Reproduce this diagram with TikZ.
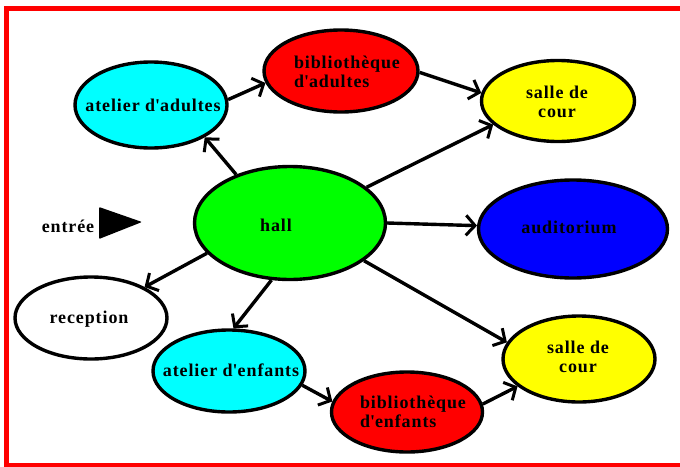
\documentclass[tikz,border=0pt]{standalone}
\usepackage{fontspec}
\setmainfont{Liberation Serif}[LetterSpace=5]
\usetikzlibrary{shapes.geometric,arrows.meta}
\definecolor{rcyan}{RGB}{0,255,255}
\definecolor{rred}{RGB}{255,0,0}
\definecolor{ryellow}{RGB}{255,255,0}
\definecolor{rgreen}{RGB}{0,255,0}
\definecolor{rblue}{RGB}{0,0,255}
\newcommand\apo{\textquotesingle}
\tikzset{
  room/.style={ellipse, draw=black, line width=3.4pt, inner sep=0pt},
  lbl/.style={font=\bfseries\fontsize{18}{18.5}\selectfont, inner sep=0pt},
  conn/.style={line width=3.4pt, -{Straight Barb[length=9pt,width=20pt,line width=3pt]}},
}
\begin{document}
\begin{tikzpicture}[x=1pt,y=-1pt]
\useasboundingbox (0,0) rectangle (680,466);
\fill[white] (0,0) rectangle (680,466);
% red frame
\draw[rred, line width=5pt] (690,8) -- (6.5,8) -- (6.5,465) -- (690,465);

% rooms
\node[room, fill=rcyan, minimum width=152pt, minimum height=86pt] (aa) at (151,105) {};
\node[room, fill=rred, minimum width=154pt, minimum height=82pt] (ba) at (341,71) {};
\node[room, fill=ryellow, minimum width=153pt, minimum height=81pt] (st) at (558,101) {};
\node[room, fill=rgreen, minimum width=191pt, minimum height=113pt] (hall) at (290,223) {};
\node[room, fill=rblue, minimum width=189pt, minimum height=98pt] (aud) at (573,229) {};
\node[room, fill=white, minimum width=152pt, minimum height=82pt] (rec) at (91,318) {};
\node[room, fill=ryellow, minimum width=152pt, minimum height=86pt] (sb) at (579,359) {};
\node[room, fill=rcyan, minimum width=152pt, minimum height=82pt] (ae) at (229,371) {};
\node[room, fill=rred, minimum width=151pt, minimum height=80pt] (be) at (407,412) {};

% labels
\node[lbl] (aa-t) at (153,105) {atelier d\apo adultes};
\node[lbl, align=left] (ba-t) at (347,72) {biblioth\`eque\\d\apo adultes};
\node[lbl, align=center] (st-t) at (557,102) {salle de\\cour};
\node[lbl] (hall-t) at (276,225) {hall};
\node[lbl] (aud-t) at (569,227) {auditorium};
\node[lbl] (rec-t) at (89,319) {reception};
\node[lbl, align=center] (sb-t) at (578,357) {salle de\\cour};
\node[lbl] (ae-t) at (231,370) {atelier d\apo enfants};
\node[lbl, align=left] (be-t) at (413,412) {biblioth\`eque\\d\apo enfants};
\node[lbl] (ent) at (68,226) {entr\'ee};

% entrance triangle
\fill[black, rounded corners=1pt] (99,207) -- (142,222) -- (99,239) -- cycle;

% connectors
\draw[conn] (hall.138) -- (aa.-31);
\draw[conn] (aa.4) -- (ba.-171);
\draw[conn] (ba.-1) -- (st.174);
\draw[conn] (hall.25) -- (st.-160);
\draw[conn] (hall.0) -- (aud.178);
\draw[conn] (hall.-27) -- (sb.167);
\draw[conn] (hall.-160) -- (rec.30);
\draw[conn] (hall.-108) -- (ae.84);
\draw[conn] (ae.-11) -- (be.172);
\draw[conn] (be.6) -- (sb.-156);
\end{tikzpicture}
\end{document}
